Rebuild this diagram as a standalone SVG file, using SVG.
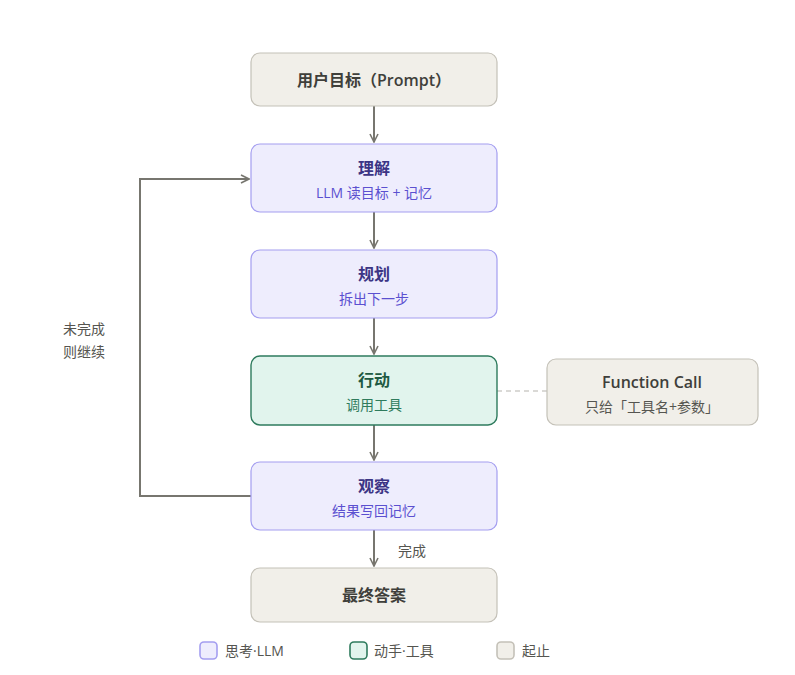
<svg xmlns="http://www.w3.org/2000/svg" width="795" height="675" viewBox="0 0 795 675">
<defs>
<style>
text{font-family:"Open Sans","Noto Sans CJK SC",sans-serif;text-anchor:middle}
.think rect{fill:#eeedfd;stroke:#a49ef0;stroke-width:1.2}
.act rect{fill:#e1f4ed;stroke:#2e7b5d;stroke-width:1.4}
.term rect{fill:#f1efe9;stroke:#c4c1b8;stroke-width:1.2}
.t{font-size:16px;font-weight:600}
.think .t{fill:#3c3585}
.think .s{fill:#5b50d0;font-size:14px}
.act .t{fill:#1e5a42}
.act .s{fill:#2f7b5c;font-size:14px}
.term .t{fill:#3f3f3b}
.term .s{fill:#555550;font-size:14px}
.conn path,.conn line{fill:none;stroke:#77766f;stroke-width:2}
.lbl{font-size:14px;fill:#555550}
.leg{font-size:14px;fill:#555550;text-anchor:start}
#legend rect{stroke-width:1.6}
</style>
<marker id="arr" viewBox="0 0 10 10" refX="9" refY="5" markerWidth="10" markerHeight="10" markerUnits="userSpaceOnUse" orient="auto">
<path d="M1,1 L9,5 L1,9" fill="none" stroke="#77766f" stroke-width="1.6"/>
</marker>
</defs>
<rect width="795" height="675" fill="#ffffff"/>
<g class="conn">
<line x1="374" y1="106" x2="374" y2="142" marker-end="url(#arr)"/>
<line x1="374" y1="212" x2="374" y2="248" marker-end="url(#arr)"/>
<line x1="374" y1="318" x2="374" y2="354" marker-end="url(#arr)"/>
<line x1="374" y1="425" x2="374" y2="460" marker-end="url(#arr)"/>
<line x1="374" y1="530" x2="374" y2="566" marker-end="url(#arr)"/>
<path d="M251,496 H140 V179 H249" marker-end="url(#arr)"/>
<line x1="497" y1="391" x2="547" y2="391" style="stroke:#b5b3ad;stroke-width:1.2;stroke-dasharray:5 4"/>
<text class="lbl" x="412" y="556">完成</text>
<text class="lbl" x="84" y="334">未完成</text>
<text class="lbl" x="84" y="357">则继续</text>
</g>
<g id="prompt" class="term">
<rect x="251" y="53" width="246" height="53" rx="9"/>
<text class="t" x="374" y="86">用户目标（Prompt）</text>
</g>
<g id="understand" class="think">
<rect x="251" y="144" width="246" height="68" rx="9"/>
<text class="t" x="374" y="174">理解</text>
<text class="s" x="374" y="198">LLM 读目标 + 记忆</text>
</g>
<g id="plan" class="think">
<rect x="251" y="250" width="246" height="68" rx="9"/>
<text class="t" x="374" y="280">规划</text>
<text class="s" x="374" y="304">拆出下一步</text>
</g>
<g id="act" class="act">
<rect x="251" y="356" width="246" height="69" rx="9"/>
<text class="t" x="374" y="386">行动</text>
<text class="s" x="374" y="410">调用工具</text>
</g>
<g id="fcall" class="term">
<rect x="547" y="359" width="211" height="66" rx="9"/>
<text class="t" x="652" y="388">Function Call</text>
<text class="s" x="652" y="412">只给「工具名+参数」</text>
</g>
<g id="observe" class="think">
<rect x="251" y="462" width="246" height="68" rx="9"/>
<text class="t" x="374" y="492">观察</text>
<text class="s" x="374" y="516">结果写回记忆</text>
</g>
<g id="final" class="term">
<rect x="251" y="568" width="246" height="54" rx="9"/>
<text class="t" x="374" y="601">最终答案</text>
</g>
<g id="legend">
<g class="think"><rect x="200" y="642" width="17" height="17" rx="4"/></g>
<text class="leg" x="225" y="656">思考·LLM</text>
<g class="act"><rect x="350" y="642" width="17" height="17" rx="4"/></g>
<text class="leg" x="374" y="656">动手·工具</text>
<g class="term"><rect x="497" y="642" width="17" height="17" rx="4"/></g>
<text class="leg" x="522" y="656">起止</text>
</g>
</svg>
